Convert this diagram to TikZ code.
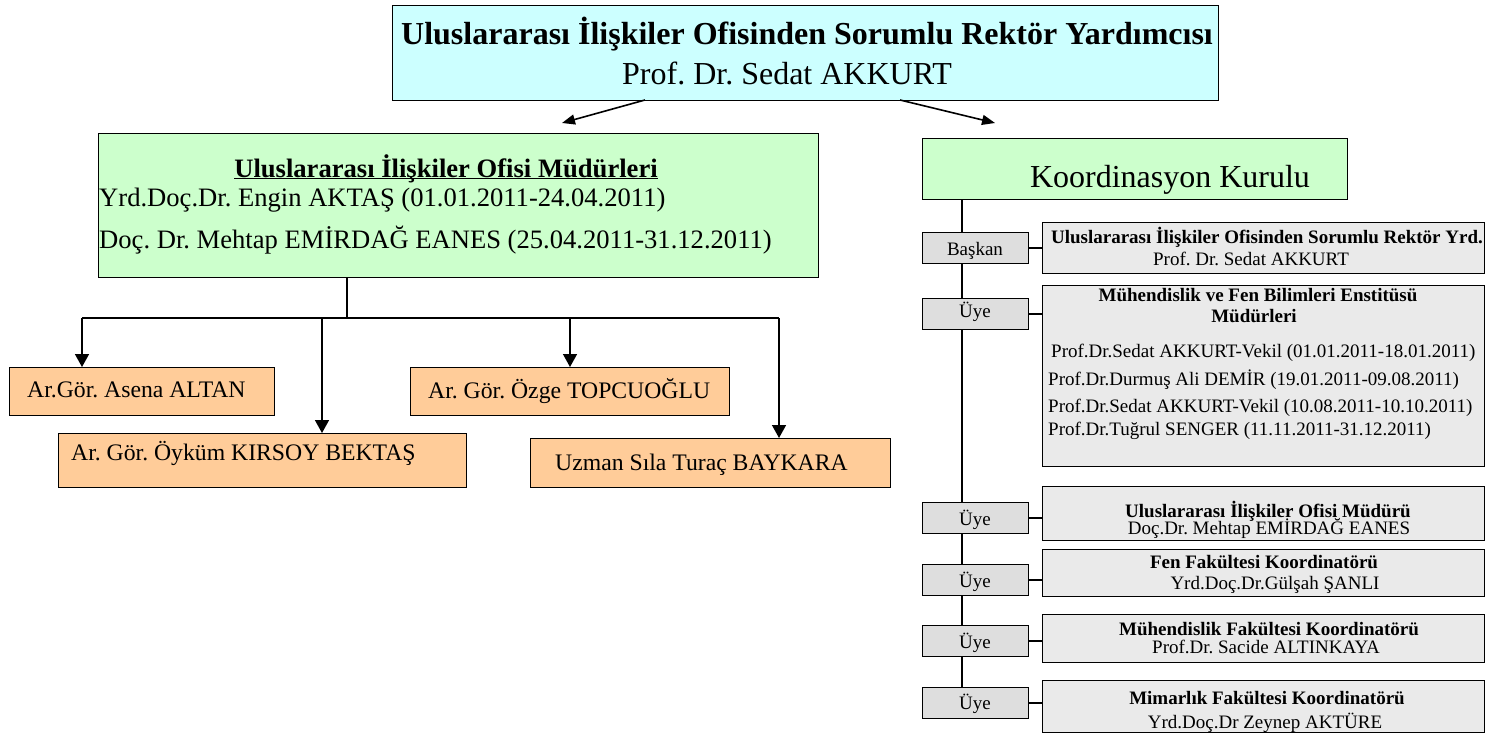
\documentclass[tikz,border=0pt]{standalone}
\usepackage{fontspec}
\setmainfont{Liberation Serif}
\usepackage{tikz}
\usetikzlibrary{arrows.meta}
\frenchspacing

\definecolor{topcyan}{RGB}{204,255,255}
\definecolor{mudurgreen}{RGB}{204,255,204}
\definecolor{staforange}{RGB}{255,204,153}
\definecolor{uyegray}{RGB}{222,222,222}
\definecolor{kurulgray}{RGB}{234,234,234}

\newcommand{\fsTop}{\fontsize{32}{38}\selectfont}
\newcommand{\fsMid}{\fontsize{26.6}{32}\selectfont}
\newcommand{\fsOrg}{\fontsize{23.7}{28}\selectfont}
\newcommand{\fsSmall}{\fontsize{19}{23}\selectfont}

\begin{document}
\begin{tikzpicture}[x=1pt,y=-1pt,
    box/.style={draw,line width=1.3pt,inner sep=0pt,anchor=north west},
    txt/.style={inner sep=0pt,anchor=base},
    txtl/.style={inner sep=0pt,anchor=base west},
    link/.style={line width=1.4pt},
    arrtop/.style={line width=1.6pt,-{Triangle[width=10pt,length=13pt]}},
    arrdown/.style={line width=1.5pt,-{Triangle[width=14pt,length=13pt]}}]

    \useasboundingbox (0,0) rectangle (1491,733);

    % rector
    \node[box,fill=topcyan,minimum width=826pt,minimum height=95pt] (top) at (392,5) {};
    \node[txt] (toptitle) at (807,45) {\fsTop\bfseries Uluslararası İlişkiler Ofisinden Sorumlu Rektör Yardımcısı};
    \node[txt] (topname)  at (787,85) {\fsTop Prof. Dr. Sedat AKKURT};

    % office directors
    \node[box,fill=mudurgreen,minimum width=720pt,minimum height=144pt] (mudur) at (98,133) {};
    \node[txt]  (mudurtitle) at (446,177) {\fsMid\bfseries\underline{\smash{Uluslararası İlişkiler Ofisi Müdürleri}}};
    \node[txtl] (mudur1) at (99,206) {\fsMid Yrd.Doç.Dr. Engin AKTAŞ (01.01.2011-24.04.2011)};
    \node[txtl] (mudur2) at (99,248) {\fsMid Doç. Dr. Mehtap EMİRDAĞ EANES (25.04.2011-31.12.2011)};

    % staff
    \node[box,fill=staforange,minimum width=265pt,minimum height=48pt] (asena)   at (9,367)   {};
    \node[box,fill=staforange,minimum width=408pt,minimum height=54pt] (oykum)   at (58,433)  {};
    \node[box,fill=staforange,minimum width=319pt,minimum height=48pt] (ozge)    at (410,367) {};
    \node[box,fill=staforange,minimum width=360pt,minimum height=49pt] (baykara) at (530,438) {};
    \node[txtl] (asenatext)   at (27,397)  {\fsOrg Ar.Gör. Asena ALTAN};
    \node[txtl] (oykumtext)   at (71,460)  {\fsOrg Ar. Gör. Öyküm KIRSOY BEKTAŞ};
    \node[txtl] (ozgetext)    at (428,398) {\fsOrg Ar. Gör. Özge TOPCUOĞLU};
    \node[txtl] (baykaratext) at (555,470) {\fsOrg Uzman Sıla Turaç BAYKARA};

    % board
    \node[box,fill=mudurgreen,minimum width=425pt,minimum height=61pt] (kurul) at (922,138) {};
    \node[txt] (kurultext) at (1170,187) {\fsTop Koordinasyon Kurulu};

    \node[box,fill=uyegray,minimum width=106pt,minimum height=31pt] (baskan) at (922,232) {};
    \node[box,fill=uyegray,minimum width=106pt,minimum height=31pt] (uye1)   at (922,298) {};
    \node[box,fill=uyegray,minimum width=106pt,minimum height=31pt] (uye2)   at (922,502) {};
    \node[box,fill=uyegray,minimum width=106pt,minimum height=31pt] (uye3)   at (922,564) {};
    \node[box,fill=uyegray,minimum width=106pt,minimum height=31pt] (uye4)   at (922,625) {};
    \node[box,fill=uyegray,minimum width=106pt,minimum height=31pt] (uye5)   at (922,687) {};
    \node[txt] (baskantext) at (975,255) {\fsSmall Başkan};
    \node[txt] (uye1text)   at (975,317) {\fsSmall Üye};
    \node[txt] (uye2text)   at (975,525) {\fsSmall Üye};
    \node[txt] (uye3text)   at (975,587) {\fsSmall Üye};
    \node[txt] (uye4text)   at (975,648) {\fsSmall Üye};
    \node[txt] (uye5text)   at (975,709) {\fsSmall Üye};

    \node[box,fill=kurulgray,minimum width=442pt,minimum height=51pt]  (rektor)   at (1042,222) {};
    \node[box,fill=kurulgray,minimum width=442pt,minimum height=181pt] (enstitu)  at (1042,285) {};
    \node[box,fill=kurulgray,minimum width=442pt,minimum height=54pt]  (ofis)     at (1042,486) {};
    \node[box,fill=kurulgray,minimum width=442pt,minimum height=47pt]  (fen)      at (1042,549) {};
    \node[box,fill=kurulgray,minimum width=442pt,minimum height=48pt]  (muhendis) at (1042,614) {};
    \node[box,fill=kurulgray,minimum width=442pt,minimum height=52pt]  (mimar)    at (1042,680) {};

    \node[txt] (rektor1) at (1267,243) {\fsSmall\bfseries Uluslararası İlişkiler Ofisinden Sorumlu Rektör Yrd.};
    \node[txt] (rektor2) at (1251,265) {\fsSmall Prof. Dr. Sedat AKKURT};
    \node[txt] (enstitu1) at (1258,301) {\fsSmall\bfseries Mühendislik ve Fen Bilimleri Enstitüsü};
    \node[txt] (enstitu2) at (1254,322) {\fsSmall\bfseries Müdürleri};
    \node[txtl] (enstitu3) at (1051,357) {\fsSmall Prof.Dr.Sedat AKKURT-Vekil (01.01.2011-18.01.2011)};
    \node[txtl] (enstitu4) at (1048,385) {\fsSmall Prof.Dr.Durmuş Ali DEMİR (19.01.2011-09.08.2011)};
    \node[txtl] (enstitu5) at (1048,412) {\fsSmall Prof.Dr.Sedat AKKURT-Vekil (10.08.2011-10.10.2011)};
    \node[txtl] (enstitu6) at (1048,435) {\fsSmall Prof.Dr.Tuğrul SENGER (11.11.2011-31.12.2011)};
    \node[txt] (ofis1) at (1268,517) {\fsSmall\bfseries Uluslararası İlişkiler Ofisi Müdürü};
    \node[txt] (ofis2) at (1269,534) {\fsSmall Doç.Dr. Mehtap EMİRDAĞ EANES};
    \node[txt] (fen1) at (1264,568) {\fsSmall\bfseries Fen Fakültesi Koordinatörü};
    \node[txt] (fen2) at (1275,589) {\fsSmall Yrd.Doç.Dr.Gülşah ŞANLI};
    \node[txt] (muhendis1) at (1269,635) {\fsSmall\bfseries Mühendislik Fakültesi Koordinatörü};
    \node[txt] (muhendis2) at (1266,653) {\fsSmall Prof.Dr. Sacide ALTINKAYA};
    \node[txt] (mimar1) at (1267,704) {\fsSmall\bfseries Mimarlık Fakültesi Koordinatörü};
    \node[txt] (mimar2) at (1265,728) {\fsSmall Yrd.Doç.Dr Zeynep AKTÜRE};

    % connectors
    \coordinate (topleft)  at (645,100);
    \coordinate (topright) at (900,100);
    \coordinate (tipleft)  at (562,123);
    \coordinate (tipright) at (995,123);
    \draw[arrtop] (topleft) -- (tipleft);
    \draw[arrtop] (topright) -- (tipright);

    \coordinate (hub) at (347,318);
    \coordinate (d1) at (82,318);
    \coordinate (d2) at (322,318);
    \coordinate (d3) at (570,318);
    \coordinate (d4) at (779,318);
    \draw[link] (mudur.south -| hub) -- (hub);
    \draw[link] (d1) -- (d4);
    \draw[arrdown] (d1) -- (d1 |- asena.north);
    \draw[arrdown] (d2) -- (d2 |- oykum.north);
    \draw[arrdown] (d3) -- (d3 |- ozge.north);
    \draw[arrdown] (d4) -- (d4 |- baykara.north);

    \coordinate (spine) at (962,0);
    \draw[link] (kurul.south -| spine) -- (baskan.north -| spine);
    \draw[link] (baskan.south -| spine) -- (uye1.north -| spine);
    \draw[link] (uye1.south -| spine) -- (uye2.north -| spine);
    \draw[link] (uye2.south -| spine) -- (uye3.north -| spine);
    \draw[link] (uye3.south -| spine) -- (uye4.north -| spine);
    \draw[link] (uye4.south -| spine) -- (uye5.north -| spine);

    \draw[link] (baskan.east) -- (baskan.east -| rektor.west);
    \draw[link] (uye1.east) -- (uye1.east -| enstitu.west);
    \draw[link] (uye2.east) -- (uye2.east -| ofis.west);
    \draw[link] (uye3.east) -- (uye3.east -| fen.west);
    \draw[link] (uye4.east) -- (uye4.east -| muhendis.west);
    \draw[link] (uye5.east) -- (uye5.east -| mimar.west);
\end{tikzpicture}
\end{document}
